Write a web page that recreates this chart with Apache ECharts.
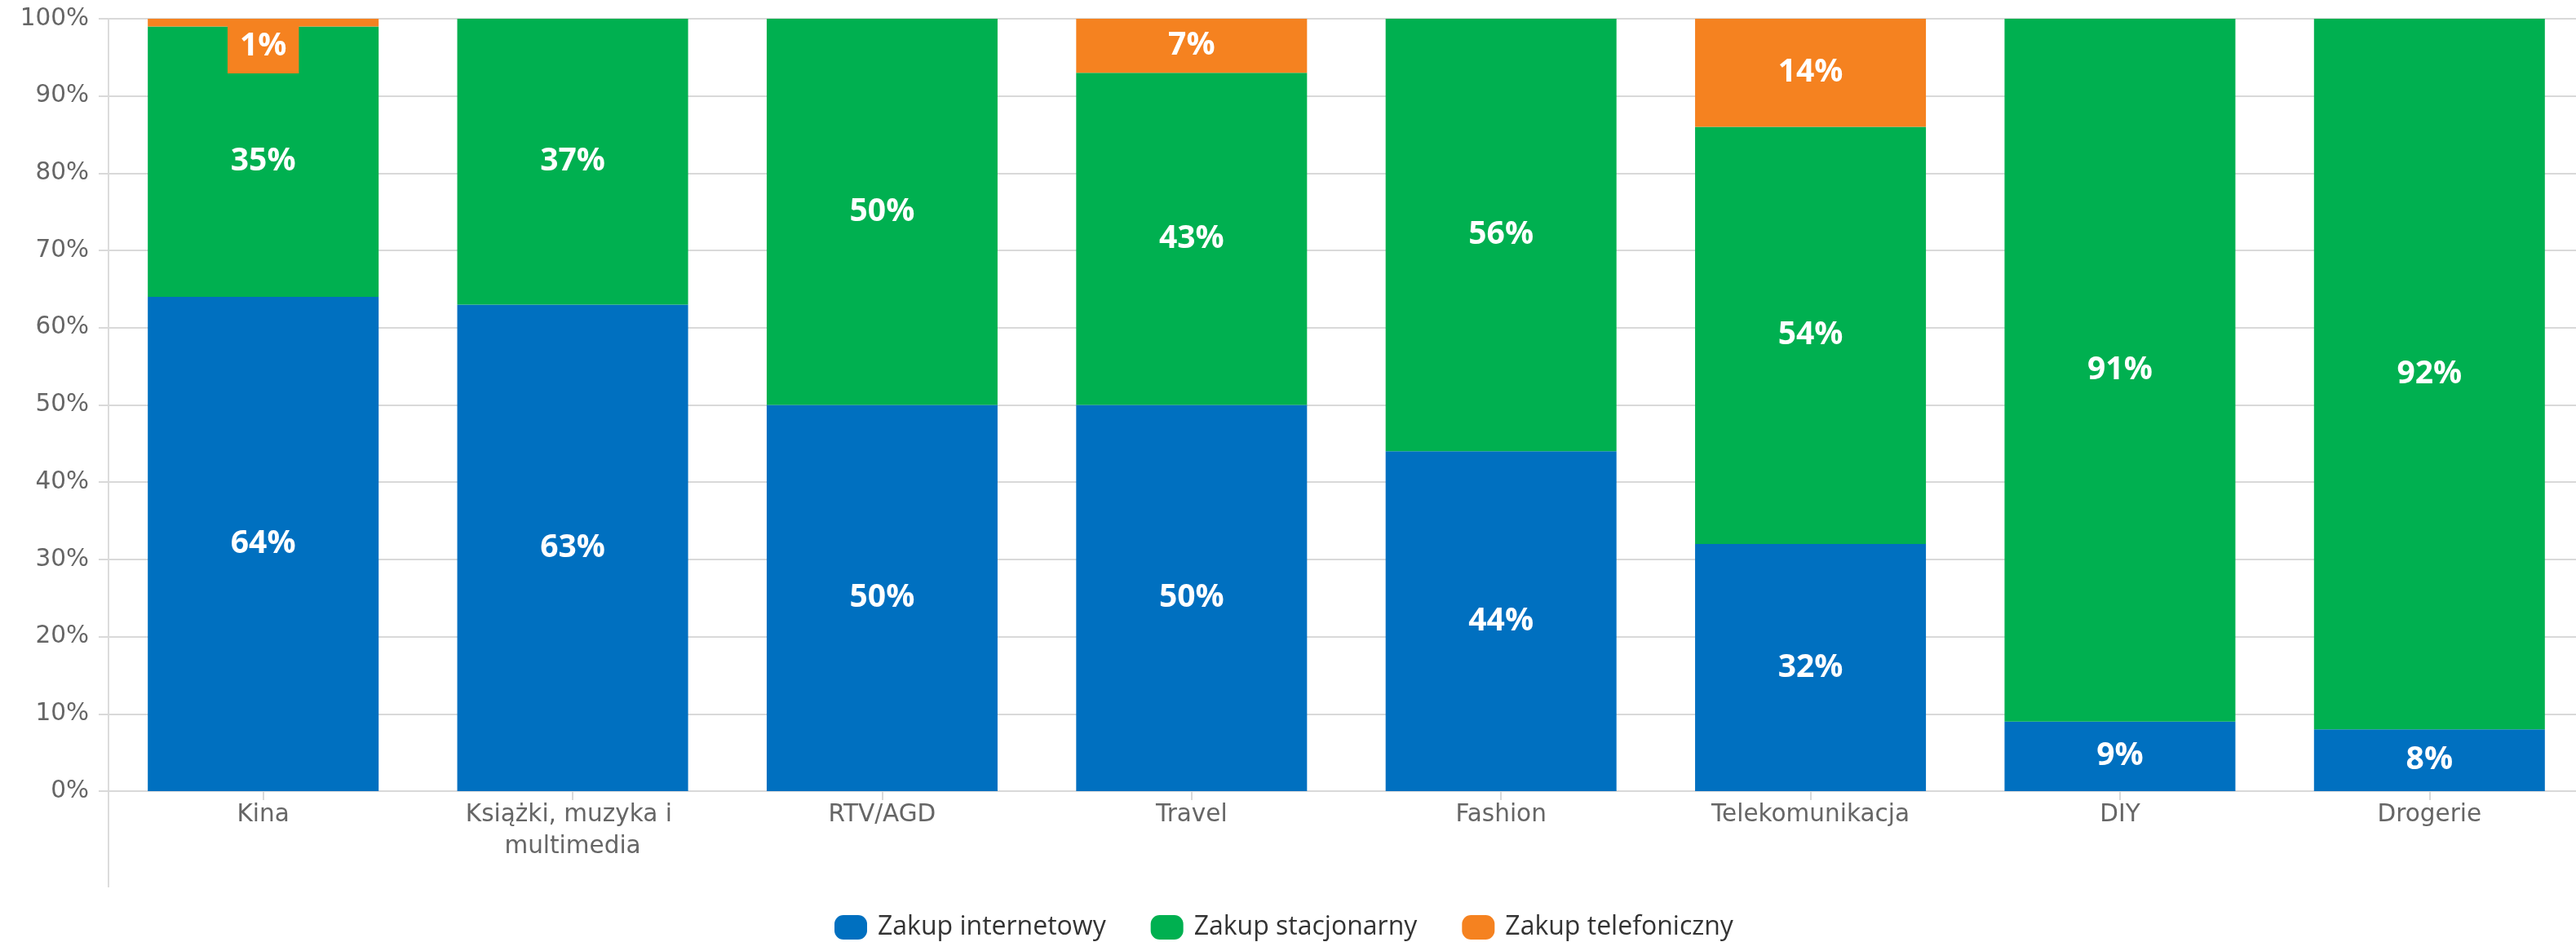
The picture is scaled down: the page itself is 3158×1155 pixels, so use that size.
<!DOCTYPE html>
<html>
<head>
<meta charset="utf-8">
<title>Zakupy wg kanału</title>
<script src="https://cdn.jsdelivr.net/npm/echarts@6/dist/echarts.min.js"></script>
<style>
  html, body { margin: 0; padding: 0; background: #ffffff; }
  #chart { width: 3158px; height: 1155px; }
</style>
</head>
<body>
<div id="chart"></div>
<script>
// Categories (shop types) and share of each purchase channel, in percent
const categories = ['Kina', 'Książki, muzyka i multimedia', 'RTV/AGD', 'Travel', 'Fashion', 'Telekomunikacja', 'DIY', 'Drogerie'];
const seriesNames = ['Zakup internetowy', 'Zakup stacjonarny', 'Zakup telefoniczny'];
const internetowy = [64, 63, 50, 50, 44, 32, 9, 8];
const stacjonarny = [35, 37, 50, 43, 56, 54, 91, 92];
const telefoniczny = [1, 0, 0, 7, 0, 14, 0, 0];
const yTicks = [0, 10, 20, 30, 40, 50, 60, 70, 80, 90, 100];

const colors = ['#0070c0', '#00b050', '#f58220'];
const gridLeft = 133;
const gridTop = 23;
const gridWidth = 3035;
const gridBottom = 185;
const axisGray = '#d9d9d9';

const chart = echarts.init(document.getElementById('chart'));

// Zero shares are not drawn; very thin segments get their label pushed
// inside the plot area on a box of the series colour.
function buildData(values, color) {
  return values.map(v => {
    if (!v) return null;
    if (v < 3) {
      return {
        value: v,
        label: {
          position: 'insideTop',
          distance: 0,
          backgroundColor: color,
          padding: [14, 15]
        }
      };
    }
    return v;
  });
}

const seriesValues = [internetowy, stacjonarny, telefoniczny];

const option = {
  animation: false,
  color: colors,
  grid: {
    left: gridLeft,
    top: gridTop,
    bottom: gridBottom,
    width: gridWidth,
    containLabel: false,
    outerBoundsMode: 'none'
  },
  legend: {
    left: 1018,
    top: 1116,
    itemWidth: 40,
    itemHeight: 30,
    itemGap: 55,
    icon: 'path://M11,0 H29 A11,11 0 0 1 40,11 V19 A11,11 0 0 1 29,30 H11 A11,11 0 0 1 0,19 V11 A11,11 0 0 1 11,0 Z',
    textStyle: {
      fontFamily: 'Open Sans',
      fontSize: 32,
      color: '#333333',
      padding: [0, 0, 0, 8]
    },
    data: seriesNames
  },
  xAxis: {
    type: 'category',
    data: categories,
    axisLine: { show: true, lineStyle: { color: axisGray, width: 2 } },
    axisTick: { show: true, alignWithLabel: true, length: 11, lineStyle: { color: axisGray, width: 2 } },
    axisLabel: {
      fontFamily: 'DejaVu Sans',
      fontSize: 29.5,
      color: '#666666',
      margin: 10,
      lineHeight: 39,
      width: 360,
      overflow: 'break',
      interval: 0
    }
  },
  yAxis: {
    type: 'value',
    min: yTicks[0],
    max: yTicks[yTicks.length - 1],
    interval: yTicks[1] - yTicks[0],
    axisLine: { show: true, lineStyle: { color: '#dcdcdc', width: 2 } },
    axisTick: { show: true, length: 12, lineStyle: { color: axisGray, width: 2 } },
    splitLine: { show: true, lineStyle: { color: axisGray, width: 2 } },
    axisLabel: {
      fontFamily: 'DejaVu Sans',
      fontSize: 29.5,
      color: '#666666',
      margin: 24,
      formatter: '{value}%'
    }
  },
  series: seriesNames.map((name, i) => ({
    name: name,
    type: 'bar',
    stack: 'kanal',
    barWidth: '74.6%',
    data: buildData(seriesValues[i], colors[i]),
    itemStyle: { color: colors[i] },
    label: {
      show: true,
      position: 'inside',
      color: '#ffffff',
      fontFamily: 'Open Sans',
      fontWeight: 'bold',
      fontSize: 39,
      formatter: p => p.value + '%'
    },
    emphasis: { disabled: true }
  }))
};

chart.setOption(option);

// Extend the value-axis line below the category labels
const zeroPoint = chart.convertToPixel({ gridIndex: 0 }, [0, 0]);
chart.setOption({
  graphic: [{
    type: 'line',
    silent: true,
    shape: { x1: gridLeft, y1: zeroPoint[1], x2: gridLeft, y2: zeroPoint[1] + 118 },
    style: { stroke: '#dcdcdc', lineWidth: 2 }
  }]
});
</script>
</body>
</html>
